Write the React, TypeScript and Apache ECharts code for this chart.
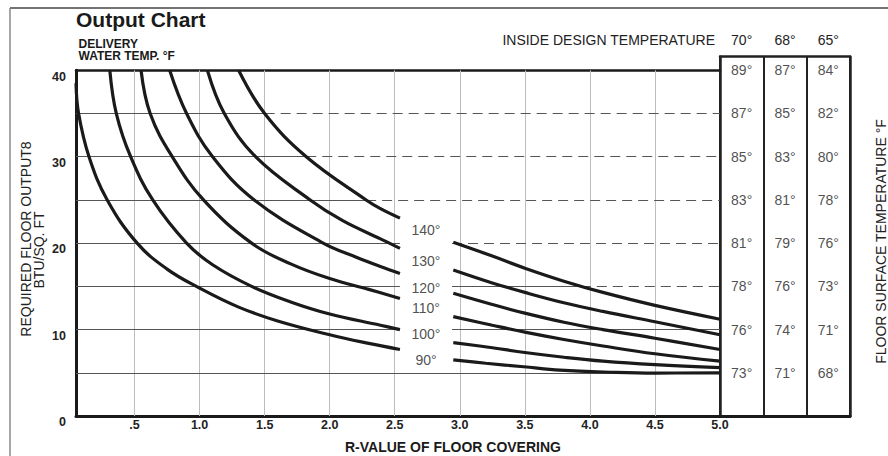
import React, { useEffect, useRef } from "react";
import * as echarts from "echarts";

const FONT = '"Liberation Sans", Arial, Helvetica, sans-serif';

// ---- Axis ticks ----
const xTickValues = [0.5, 1, 1.5, 2, 2.5, 3, 3.5, 4, 4.5, 5];
const xGridValues = [0.5, 1, 1.5, 2, 2.5, 3, 3.5, 4, 4.5];

// ---- Curves (R-value, BTU/sq.ft) per delivery water temperature ----
const curveTemps = ["90°", "100°", "110°", "120°", "130°", "140°"];
const left90 = [[0.05, 38.5], [0.07, 35], [0.15, 30], [0.29, 25], [0.52, 20], [0.75, 17], [1.0, 14.8], [1.3, 12.6], [1.6, 11.0], [2.0, 9.4], [2.3, 8.4], [2.54, 7.7]];
const right90 = [[2.95, 6.5], [3.2, 6.1], [3.49, 5.7], [3.77, 5.3], [4.2, 5.05], [4.5, 4.97], [5.0, 5.0]];
const left100 = [[0.31, 40], [0.36, 35], [0.47, 30], [0.64, 25], [0.9, 20], [1.1, 17.5], [1.4, 15], [1.7, 13.2], [2.0, 11.8], [2.39, 10.5], [2.54, 10.0]];
const right100 = [[2.95, 8.5], [3.25, 7.9], [3.5, 7.35], [3.8, 6.8], [4.1, 6.35], [4.5, 5.95], [5.0, 5.6]];
const left110 = [[0.55, 40], [0.62, 35], [0.79, 30], [1.03, 25], [1.4, 20], [1.7, 17.6], [2.0, 15.9], [2.3, 14.65], [2.54, 13.6]];
const right110 = [[2.95, 11.5], [3.25, 10.5], [3.5, 9.7], [3.8, 8.85], [4.1, 8.1], [4.5, 7.2], [5.0, 6.35]];
const left120 = [[0.77, 40], [0.9, 35], [1.1, 30], [1.42, 25], [1.95, 20], [2.2, 18.4], [2.39, 17.3], [2.54, 16.5]];
const right120 = [[2.95, 14.2], [3.25, 12.9], [3.5, 11.9], [3.8, 10.85], [4.1, 10.0], [4.5, 9.0], [5.0, 7.7]];
const left130 = [[1.06, 40], [1.19, 35], [1.43, 30], [1.85, 25], [2.1, 22.6], [2.39, 20.5], [2.54, 19.4]];
const right130 = [[2.95, 16.9], [3.25, 15.4], [3.5, 14.3], [3.8, 13.1], [4.1, 12.1], [4.5, 10.9], [5.0, 9.4]];
const left140 = [[1.3, 40], [1.5, 35], [1.82, 30], [2.28, 25], [2.39, 24.0], [2.54, 22.9]];
const right140 = [[2.95, 20.1], [3.25, 18.5], [3.5, 17.1], [3.8, 15.6], [4.1, 14.3], [4.5, 12.8], [5.0, 11.2]];
const curveSegments = [
  [left90, right90],
  [left100, right100],
  [left110, right110],
  [left120, right120],
  [left130, right130],
  [left140, right140],
];
const curveLabelR = 2.74;
const curveLabelV = [6.5, 9.5, 12.5, 14.8, 17.9, 21.5];

// ---- Horizontal reference lines (solid / dashed spans in R) ----
const hLevels = [5, 10, 15, 20, 25, 30, 35];
const hSolid = [
  [[0.05, 5]],
  [[0.05, 2.54], [2.94, 5]],
  [[0.05, 2.54], [2.94, 3.93]],
  [[0.05, 2.54]],
  [[0.05, 2.28]],
  [[0.05, 1.82]],
  [[0.05, 1.5]],
];
const hDashed = [[], [], [[3.93, 5]], [[2.94, 5]], [[2.28, 5]], [[1.82, 5]], [[1.5, 5]]];

// ---- Floor surface temperature table ----
const insideTemps = ["70°", "68°", "65°"];
const surfaceRows = [40, 35, 30, 25, 20, 15, 10, 5];
const surface70 = [89, 87, 85, 83, 81, 78, 76, 73];
const surface68 = [87, 85, 83, 81, 79, 76, 74, 71];
const surface65 = [84, 82, 80, 78, 76, 73, 71, 68];

export default function App() {
  const ref = useRef<HTMLDivElement>(null);

  useEffect(() => {
    if (!ref.current) return;
    const chart = echarts.init(ref.current, undefined, { renderer: "svg" });

    const hLineData: any[] = [];
    hLevels.forEach((v, i) => {
      hSolid[i].forEach(([a, b]) =>
        hLineData.push([
          { coord: [a, v], lineStyle: { type: "solid", color: "#555", width: 1 } },
          { coord: [b, v] },
        ])
      );
      hDashed[i].forEach(([a, b]) =>
        hLineData.push([
          { coord: [a, v], lineStyle: { type: [10, 6], color: "#555", width: 1 } },
          { coord: [b, v] },
        ])
      );
    });

    const curveSeries: any[] = [];
    curveSegments.forEach((segs, i) => {
      segs.forEach((seg, j) => {
        curveSeries.push({
          type: "line",
          name: curveTemps[i] + "-" + j,
          xAxisIndex: 0,
          yAxisIndex: 0,
          data: seg,
          smooth: 0.4,
          symbol: "none",
          z: 5,
          lineStyle: { color: "#1a1a1a", width: 3.2 },
          clip: true,
        });
      });
    });

    const surfaceCols = [surface70, surface68, surface65];
    const tableData: any[] = [];
    surfaceCols.forEach((col, c) => {
      col.forEach((t, r) => {
        tableData.push({ value: [c, surfaceRows[r]], label: { formatter: t + "°" } });
      });
    });

    const option: any = {
      animation: false,
      backgroundColor: "#ffffff",
      textStyle: { fontFamily: FONT },
      grid: [
        { left: 76, right: 168, top: 70.3, bottom: 40 },
        { left: 720, right: 38, top: 56.7, bottom: 40 },
      ],
      xAxis: [
        {
          type: "value",
          gridIndex: 0,
          min: 0.05,
          max: 5,
          position: "bottom",
          axisLine: { show: true, onZero: false, lineStyle: { color: "#1a1a1a", width: 3 } },
          axisTick: { show: false },
          splitLine: { show: false },
          axisLabel: {
            customValues: xTickValues,
            formatter: (v: number) => (v === 0.5 ? ".5" : v.toFixed(1)),
            fontFamily: FONT,
            fontWeight: "bold",
            fontSize: 12.5,
            color: "#222",
            margin: 2,
          },
        },
        {
          type: "value",
          gridIndex: 0,
          min: 0.05,
          max: 5,
          position: "top",
          axisLine: { show: true, onZero: false, lineStyle: { color: "#1a1a1a", width: 2.5 } },
          axisTick: { show: false },
          splitLine: { show: false },
          axisLabel: { show: false },
        },
        {
          type: "category",
          gridIndex: 1,
          data: insideTemps,
          position: "bottom",
          boundaryGap: true,
          axisLine: { show: true, onZero: false, lineStyle: { color: "#1a1a1a", width: 3 } },
          axisTick: { show: false },
          axisLabel: { show: false },
          splitLine: { show: true, interval: 0, lineStyle: { color: "#222", width: 2 } },
        },
        {
          type: "category",
          gridIndex: 1,
          data: insideTemps,
          position: "top",
          boundaryGap: true,
          axisLine: { show: true, onZero: false, lineStyle: { color: "#222", width: 2.5 } },
          axisTick: { show: false },
          axisLabel: {
            show: true,
            interval: 0,
            margin: 10,
            fontFamily: FONT,
            fontSize: 14,
            fontWeight: "normal",
            color: "#222",
          },
          splitLine: { show: false },
        },
      ],
      yAxis: [
        {
          type: "value",
          gridIndex: 0,
          min: 0,
          max: 40,
          interval: 10,
          axisLine: { show: true, onZero: false, lineStyle: { color: "#1a1a1a", width: 3 } },
          axisTick: { show: false },
          splitLine: { show: false },
          axisLabel: {
            fontFamily: FONT,
            fontWeight: "bold",
            fontSize: 12.5,
            color: "#222",
            margin: 10,
            verticalAlign: "top",
            lineHeight: 12.5,
          },
        },
        {
          type: "value",
          gridIndex: 1,
          min: 0,
          max: 41.57,
          position: "left",
          axisLine: { show: true, onZero: false, lineStyle: { color: "#222", width: 2.5 } },
          axisTick: { show: false },
          axisLabel: { show: false },
          splitLine: { show: false },
        },
        {
          type: "value",
          gridIndex: 1,
          min: 0,
          max: 41.57,
          position: "right",
          axisLine: { show: true, onZero: false, lineStyle: { color: "#222", width: 2.5 } },
          axisTick: { show: false },
          axisLabel: { show: false },
          splitLine: { show: false },
        },
      ],
      series: [
        {
          type: "line",
          name: "vgrid",
          xAxisIndex: 0,
          yAxisIndex: 0,
          data: [],
          z: 1,
          markLine: {
            silent: true,
            symbol: "none",
            label: { show: false },
            lineStyle: { color: "#bdbdbd", width: 1, type: "solid" },
            data: xGridValues.map((v) => ({ xAxis: v })),
          },
        },
        {
          type: "line",
          name: "hgrid",
          xAxisIndex: 0,
          yAxisIndex: 0,
          data: [],
          z: 2,
          markLine: {
            silent: true,
            symbol: "none",
            label: { show: false },
            data: hLineData,
          },
        },
        ...curveSeries,
        {
          type: "scatter",
          name: "curveLabels",
          xAxisIndex: 0,
          yAxisIndex: 0,
          symbolSize: 1,
          itemStyle: { color: "rgba(0,0,0,0)" },
          z: 6,
          data: curveTemps.map((t, i) => ({ value: [curveLabelR, curveLabelV[i]], label: { formatter: t } })),
          label: {
            show: true,
            position: "inside",
            fontFamily: FONT,
            fontSize: 14,
            fontWeight: "normal",
            color: "#222",
          },
        },
        {
          type: "scatter",
          name: "surfaceTemps",
          xAxisIndex: 2,
          yAxisIndex: 1,
          symbolSize: 1,
          itemStyle: { color: "rgba(0,0,0,0)" },
          z: 6,
          data: tableData,
          label: {
            show: true,
            position: "inside",
            fontFamily: FONT,
            fontSize: 14,
            fontWeight: "normal",
            color: "#222",
          },
        },
      ],
      graphic: [
        { type: "line", shape: { x1: 10, y1: 8, x2: 888, y2: 8 }, style: { stroke: "#444", lineWidth: 1.3 } },
        { type: "line", shape: { x1: 10, y1: 8, x2: 10, y2: 456 }, style: { stroke: "#777", lineWidth: 1.3 } },
        {
          type: "text",
          x: 76,
          y: 19.5,
          style: { text: "Output Chart", font: `bold 21px ${FONT}`, fill: "#1a1a1a", verticalAlign: "middle", align: "left" },
        },
        {
          type: "text",
          x: 78.5,
          y: 43.5,
          style: { text: "DELIVERY", font: `bold 12px ${FONT}`, fill: "#1a1a1a", verticalAlign: "middle", align: "left" },
        },
        {
          type: "text",
          x: 78.5,
          y: 56.2,
          style: { text: "WATER TEMP. °F", font: `bold 12px ${FONT}`, fill: "#1a1a1a", verticalAlign: "middle", align: "left" },
        },
        {
          type: "text",
          x: 715,
          y: 40.3,
          style: { text: "INSIDE DESIGN TEMPERATURE", font: `14px ${FONT}`, fill: "#222", verticalAlign: "middle", align: "right" },
        },
        {
          type: "text",
          x: 26,
          y: 239,
          rotation: Math.PI / 2,
          style: { text: "REQUIRED FLOOR OUTPUT8", font: `14px ${FONT}`, fill: "#222", verticalAlign: "middle", align: "center" },
        },
        {
          type: "text",
          x: 38.5,
          y: 250,
          rotation: Math.PI / 2,
          style: { text: "BTU/SQ. FT", font: `14px ${FONT}`, fill: "#222", verticalAlign: "middle", align: "center" },
        },
        {
          type: "text",
          x: 881,
          y: 241.5,
          rotation: Math.PI / 2,
          style: { text: "FLOOR SURFACE TEMPERATURE °F", font: `14px ${FONT}`, fill: "#222", verticalAlign: "middle", align: "center" },
        },
        {
          type: "text",
          x: 345,
          y: 447.3,
          style: { text: "R-VALUE OF FLOOR COVERING", font: `bold 14px ${FONT}`, fill: "#1a1a1a", verticalAlign: "middle", align: "left" },
        },
      ],
    };

    chart.setOption(option);
    return () => chart.dispose();
  }, []);

  return (
    <div
      ref={ref}
      style={{ position: "fixed", left: 0, top: 0, width: 888, height: 456, background: "#fff" }}
    />
  );
}
